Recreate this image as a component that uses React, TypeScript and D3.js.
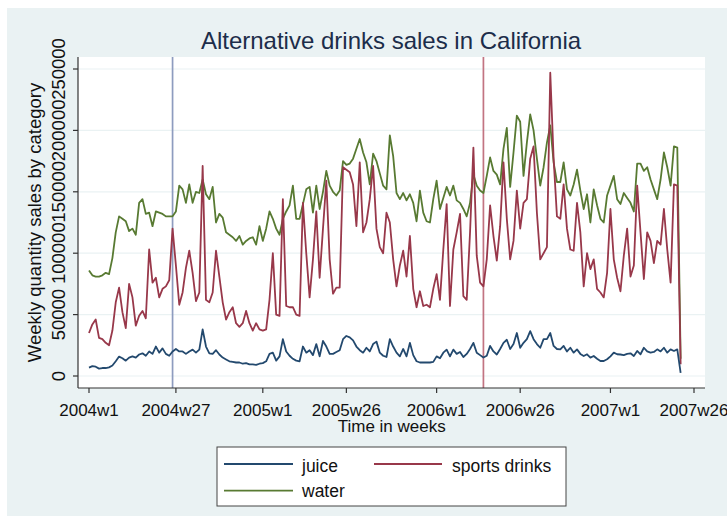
import React from "react";
import * as d3 from "d3";

// weekly values in thousands, week index 0 = 2004w1 (52 weeks per year)
const juiceK = [
  6.8, 8, 7.6, 6, 6.5, 6.5, 7, 8.5, 12, 15.8,
  14.5, 12.5, 15, 16, 15, 17.5, 18.5, 16.5, 20, 18,
  24, 19, 22.5, 18, 16.5, 20, 22, 20, 20, 18,
  20, 21.5, 19, 21.5, 38, 24, 18.5, 18, 21, 17.5,
  15, 13.5, 12, 11.5, 11, 11, 10, 10.5, 9.5, 9.5,
  9, 10, 10.5, 12, 18, 19, 12.5, 16, 30, 20,
  16.5, 14, 12.5, 12, 24, 19, 21, 17, 26, 16,
  28.5, 24, 18, 18, 19.5, 21, 30, 32.6, 31.5, 29,
  24, 21, 19, 23, 20, 26, 28, 19, 16.5, 15.5,
  30, 24, 19, 16, 22, 16, 27, 17, 12, 11,
  11, 11, 11, 11.5, 16, 14.5, 19, 21.5, 16, 21.5,
  18, 19.5, 15.5, 18, 22, 27, 19, 17, 15, 16.5,
  24.5, 20, 17.5, 22, 27, 29.5, 22, 26, 35, 23,
  27, 30, 36.5, 30, 26, 23, 30, 30, 35, 24.5,
  22, 21.7, 24.5, 20, 23, 19, 21.7, 18, 16.3, 17.7,
  15, 16.3, 14, 12.2, 12.2, 13.6, 16, 19, 17.7, 17.5,
  17, 18, 18.5, 16.3, 20.4, 17.7, 23, 20, 19, 19.6,
  21.7, 20, 23, 19, 21.7, 20.4, 21.7, 2.5,
];

const sportsK = [
  35, 42, 46, 31, 30, 27, 25, 37, 60, 72,
  52, 39, 75, 64, 41, 49, 53, 47, 103, 76,
  80, 64, 71, 73, 78, 120, 90, 58, 68, 88,
  102, 84, 61, 68, 171, 62, 60, 68, 102, 81,
  60, 46, 52, 56, 43, 40, 43, 53, 43, 37,
  43, 38, 37, 38, 62, 100, 50, 49, 144, 57,
  56, 56, 50, 49, 141, 100, 64, 95, 134, 80,
  120, 159, 95, 67, 72, 72, 170, 168, 166, 156,
  122, 174, 117, 125, 144, 171, 120, 105, 100, 133,
  125, 95, 73, 90, 102, 81, 114, 71, 56, 69,
  57, 58, 56, 71, 83, 62, 103, 140, 57, 103,
  117, 132, 65, 62, 117, 186, 98, 76, 73, 95,
  139, 114, 94, 122, 174, 128, 95, 110, 151, 120,
  141, 144, 177, 187, 133, 95, 100, 105, 247, 177,
  130, 128, 156, 120, 103, 102, 141, 117, 73, 100,
  87, 95, 71, 68, 64, 84, 136, 95, 80, 69,
  98, 120, 81, 90, 155, 117, 79, 117, 110, 92,
  110, 107, 136, 103, 76, 156, 155, 9.5,
];

const waterK = [
  86, 82, 81, 81, 82, 84, 83, 96, 117, 130,
  128, 126, 118, 120, 115, 141, 144, 132, 133, 122,
  134, 133, 132, 130, 130, 130, 134, 155, 152, 141,
  156, 141, 150, 149, 160, 148, 144, 154, 125, 132,
  129, 117, 115, 113, 110, 114, 107, 110, 112, 113,
  107, 122, 110, 120, 134, 128, 120, 115, 128, 134,
  139, 155, 128, 128, 140, 152, 154, 133, 155, 136,
  150, 167, 155, 150, 147, 151, 175, 172, 173, 177,
  185, 193, 182, 174, 156, 181, 175, 165, 155, 152,
  196, 179, 149, 144, 149, 143, 148, 141, 126, 151,
  133, 126, 125, 144, 159, 136, 145, 154, 147, 155,
  143, 141, 136, 130, 141, 164, 155, 151, 149, 163,
  178, 167, 164, 156, 185, 202, 154, 182, 212, 207,
  163, 190, 213, 200, 177, 155, 170, 190, 204, 174,
  158, 158, 174, 152, 147, 156, 168, 151, 136, 148,
  125, 152, 139, 128, 125, 147, 155, 163, 144, 140,
  149, 145, 141, 134, 173, 173, 167, 170, 160, 152,
  144, 160, 182, 170, 155, 187, 186, 14,
];

const xTickWeeks = [0, 26, 52, 77, 104, 129, 156, 181];
const xTickLabels = ["2004w1", "2004w27", "2005w1", "2005w26", "2006w1", "2006w26", "2007w1", "2007w26"];
const yTicks = [0, 50000, 100000, 150000, 200000, 250000];
const yTickLabels = ["0", "50000", "100000", "150000", "200000", "250000"];
const markerWeeks = [25, 118];

const W = 727;
const H = 526;
const FONT = "'Liberation Sans', Arial, Helvetica, sans-serif";

export default function App() {
  const x = d3.scaleLinear().domain([0, 181]).range([89, 694]);
  const y = d3.scaleLinear().domain([0, 250000]).range([376, 69]);
  const plot = { left: 78, right: 705, top: 57, bottom: 388 };

  const line = d3
    .line<number>()
    .x((_, i) => x(i))
    .y((d) => y(d * 1000));

  const series = [
    { name: "water", data: waterK, color: "#587a32" },
    { name: "sports drinks", data: sportsK, color: "#98384a" },
    { name: "juice", data: juiceK, color: "#23496e" },
  ];

  return (
    <svg
      width={W}
      height={H}
      style={{ position: "absolute", left: 0, top: 0, background: "#ffffff" }}
      fontFamily={FONT}
    >
      <rect x={7} y={8} width={W - 7} height={508} fill="#eaf2f3" />
      <rect
        x={plot.left}
        y={plot.top}
        width={plot.right - plot.left}
        height={plot.bottom - plot.top}
        fill="#ffffff"
      />
      {/* grid */}
      {yTicks.map((t) => (
        <line
          key={"g" + t}
          x1={plot.left}
          x2={plot.right}
          y1={y(t)}
          y2={y(t)}
          stroke="#eaf2f3"
          strokeWidth={1.2}
        />
      ))}
      {/* marker lines */}
      <line x1={x(markerWeeks[0])} x2={x(markerWeeks[0])} y1={plot.top} y2={plot.bottom} stroke="#8e9cbf" strokeWidth={1.7} />
      <line x1={x(markerWeeks[1])} x2={x(markerWeeks[1])} y1={plot.top} y2={plot.bottom} stroke="#c27482" strokeWidth={1.7} />
      {/* series */}
      {series.map((s) => (
        <path
          key={s.name}
          d={line(s.data) || ""}
          fill="none"
          stroke={s.color}
          strokeWidth={1.8}
          strokeLinejoin="round"
        />
      ))}
      {/* axes */}
      <line x1={plot.left} x2={plot.left} y1={plot.top} y2={plot.bottom} stroke="#333" strokeWidth={1.2} />
      <line x1={plot.left} x2={plot.right} y1={plot.bottom} y2={plot.bottom} stroke="#333" strokeWidth={1.2} />
      {yTicks.map((t, i) => (
        <g key={"yt" + t}>
          <line x1={plot.left - 5} x2={plot.left} y1={y(t)} y2={y(t)} stroke="#333" strokeWidth={1.2} />
          <text
            transform={`translate(65,${y(t)}) rotate(-90)`}
            textAnchor="middle"
            fontSize={18.5}
            fill="#111"
          >
            {yTickLabels[i]}
          </text>
        </g>
      ))}
      {xTickWeeks.map((w, i) => (
        <g key={"xt" + w}>
          <line x1={x(w)} x2={x(w)} y1={plot.bottom} y2={plot.bottom + 5} stroke="#333" strokeWidth={1.2} />
          <text x={x(w)} y={416.3} textAnchor="middle" fontSize={17} fill="#111">
            {xTickLabels[i]}
          </text>
        </g>
      ))}
      <text x={391.7} y={432.3} textAnchor="middle" fontSize={17} fill="#111">
        Time in weeks
      </text>
      <text
        transform={`translate(41.2,${(plot.top + plot.bottom) / 2}) rotate(-90)`}
        textAnchor="middle"
        fontSize={18.5}
        fill="#111"
      >
        Weekly quantity sales by category
      </text>
      <text x={391} y={49} textAnchor="middle" fontSize={24} fill="#1c2d4a">
        Alternative drinks sales in California
      </text>
      {/* legend */}
      <rect x={217} y={447} width={349} height={59} fill="#ffffff" stroke="#444" strokeWidth={1} />
      <line x1={224} x2={293} y1={464} y2={464} stroke="#23496e" strokeWidth={1.8} />
      <text x={302} y={472} fontSize={17.5} fill="#111">juice</text>
      <line x1={374} x2={442} y1={464} y2={464} stroke="#98384a" strokeWidth={1.8} />
      <text x={452} y={472} fontSize={17.5} fill="#111">sports drinks</text>
      <line x1={224} x2={293} y1={490.7} y2={490.7} stroke="#587a32" strokeWidth={1.8} />
      <text x={302} y={497.3} fontSize={17.5} fill="#111">water</text>
    </svg>
  );
}
